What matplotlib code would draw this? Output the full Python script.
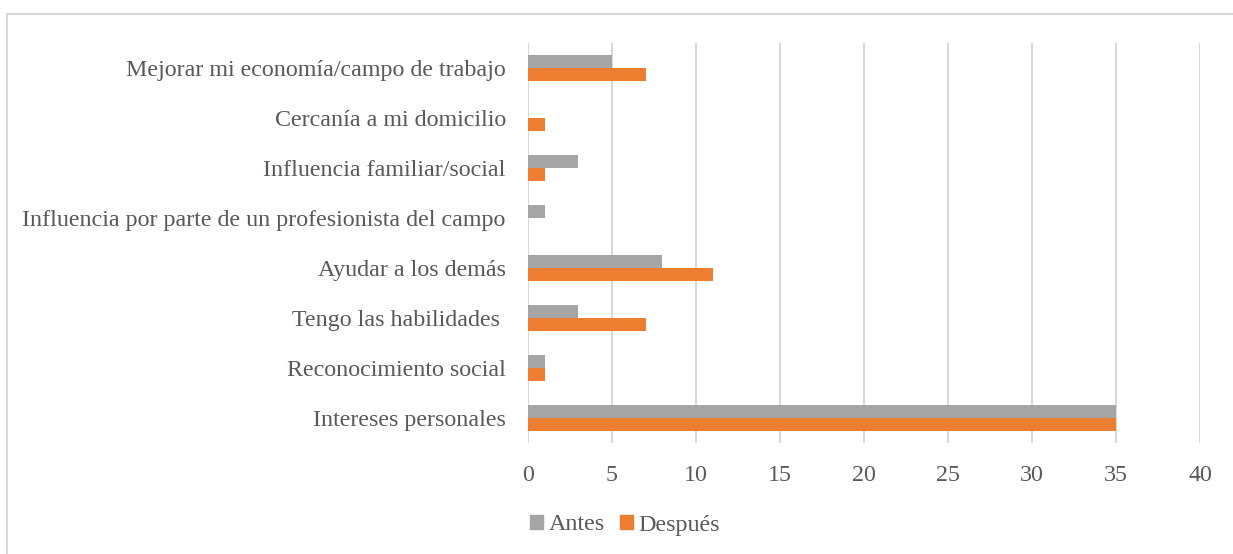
import matplotlib
matplotlib.use("Agg")
import matplotlib.pyplot as plt
from matplotlib.lines import Line2D
from matplotlib.patches import Patch

categories = [
    "Mejorar mi economía/campo de trabajo",
    "Cercanía a mi domicilio",
    "Influencia familiar/social",
    "Influencia por parte de un profesionista del campo",
    "Ayudar a los demás",
    "Tengo las habilidades ",
    "Reconocimiento social",
    "Intereses personales",
]
antes = [5, 0, 3, 1, 8, 3, 1, 35]
despues = [7, 1, 1, 0, 11, 7, 1, 35]
xticks = [0, 5, 10, 15, 20, 25, 30, 35, 40]

GRAY = "#A5A5A5"
ORANGE = "#ED7D31"
TEXT = "#595959"

plt.rcParams["font.family"] = ["Liberation Serif", "DejaVu Serif"]

W, H = 1233, 554
fig = plt.figure(figsize=(W / 100, H / 100), dpi=100)
ax = fig.add_axes([528 / W, 1 - 443 / H, (1200 - 528) / W, 400 / H])

n = len(categories)
ypos = [n - 1 - i for i in range(n)]
h = 0.26
ax.barh([y + h / 2 for y in ypos], antes, height=h, color=GRAY, label="Antes", zorder=3)
ax.barh([y - h / 2 for y in ypos], despues, height=h, color=ORANGE, label="Después", zorder=3)

ax.set_ylim(-0.5, n - 0.5)
ax.set_xlim(0, 40)
ax.set_xticks(xticks)
ax.set_xticklabels([str(t) for t in xticks])
ax.set_yticks(ypos)
ax.set_yticklabels(categories)
ax.tick_params(axis="both", length=0, labelsize=17.3, colors=TEXT)
ax.tick_params(axis="x", pad=16)
ax.tick_params(axis="y", pad=16)
ax.grid(axis="x", color="#D9D9D9", linewidth=1.5, zorder=0)
for s in ax.spines.values():
    s.set_visible(False)

handles = [Patch(color=GRAY), Patch(color=ORANGE)]
fig.legend(handles, ["Antes", "Después"], loc="center", bbox_to_anchor=(625 / W, 1 - 525 / H),
           ncol=2, frameon=False, fontsize=17.3, labelcolor=TEXT, handlelength=0.55,
           handleheight=0.55, handletextpad=0.25, columnspacing=0.6)

fig.add_artist(Line2D([6.5 / W, 1.0], [1 - 13.5 / H, 1 - 13.5 / H], transform=fig.transFigure,
                      color="#D9D9D9", linewidth=1.5))
fig.add_artist(Line2D([6.5 / W, 6.5 / W], [1 - 13.5 / H, 0], transform=fig.transFigure,
                      color="#D9D9D9", linewidth=1.5))

fig.savefig("out.png", dpi=100)
